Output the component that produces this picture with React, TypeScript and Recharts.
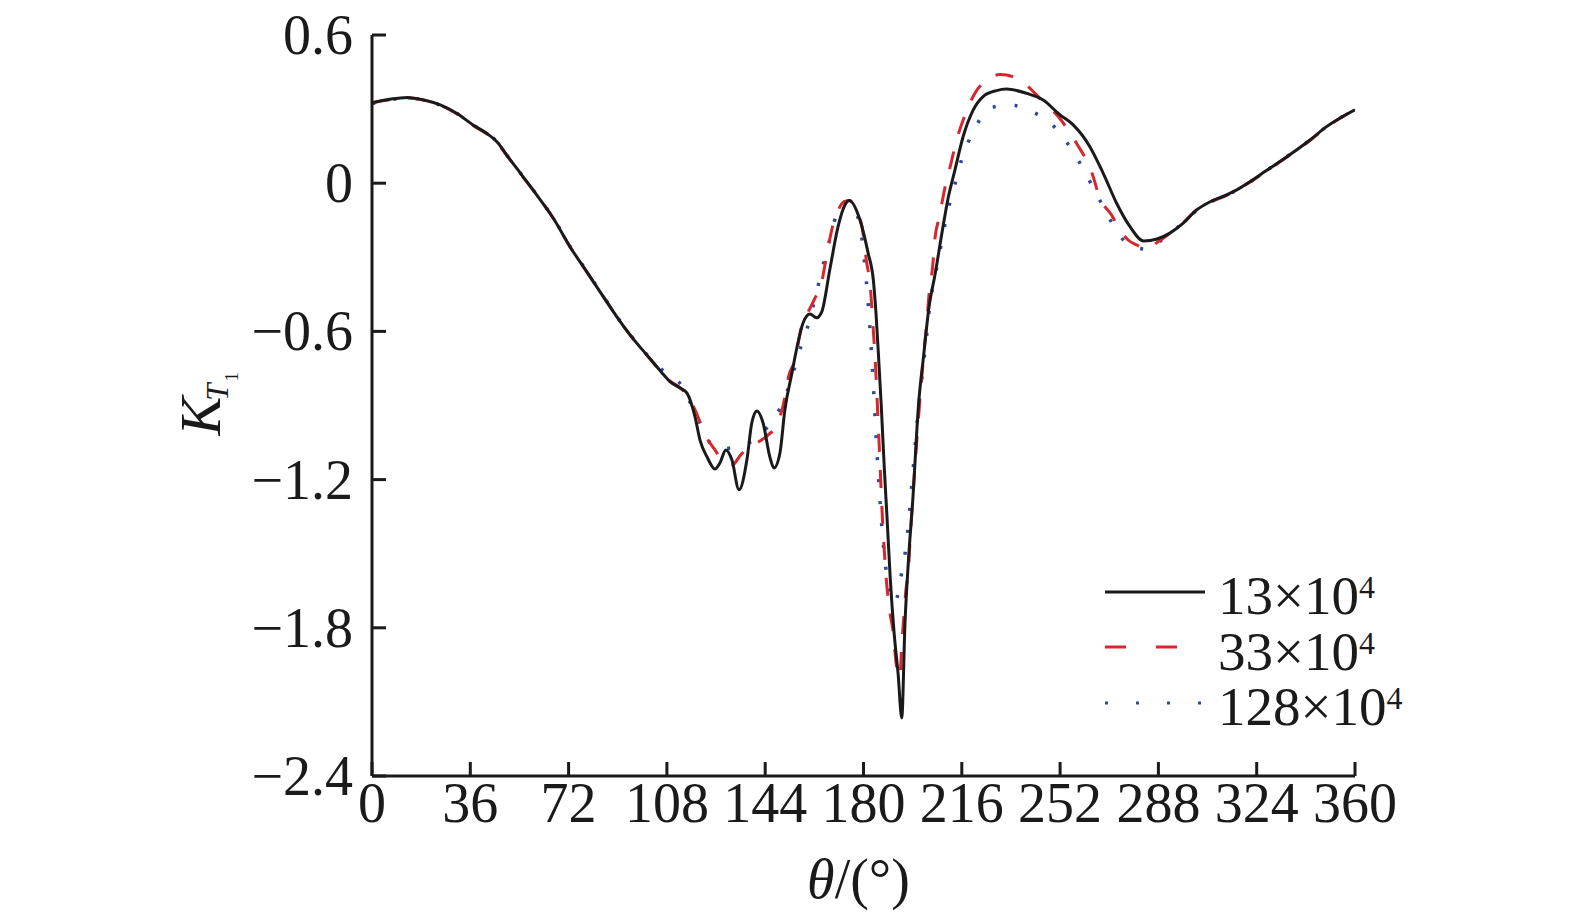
import React from 'react';
import { LineChart, Line, XAxis, YAxis, Legend, Label } from 'recharts';

const FONT = '"Liberation Serif", "Times New Roman", Times, serif';
const INK = '#1a1a1a';

const xTicks = [0, 36, 72, 108, 144, 180, 216, 252, 288, 324, 360];
const yTicks = [-2.4, -1.8, -1.2, -0.6, 0, 0.6];
const yTickLabels = ['−2.4', '−1.8', '−1.2', '−0.6', '0', '0.6'];

const seriesNames = ['13×10', '33×10', '128×10'];
const seriesExp = ['4', '4', '4'];
const seriesColors = ['#1a1a1a', '#d7262c', '#2e4a96'];

// Re = 13×10^4 (solid black)
const thetaA = [0, 6.6, 13, 19, 25, 31, 37, 42, 46, 49.3, 54.8, 60.3, 66.4, 72.5, 78.6, 84.7, 89.6, 94.5, 100.6, 106, 109.1, 112.8, 115.3, 118.3, 120.1, 122.7, 125.6, 127.4, 129.6, 131.8, 134.4, 137.3, 139.1, 141, 143.2, 145.7, 147.2, 149.4, 151.2, 153.8, 155.6, 157.9, 160.4, 162.8, 164.7, 167.7, 170.7, 173.2, 174.8, 178.7, 181.7, 183.6, 184.6, 185.5, 186.5, 187.6, 188.6, 189.8, 191.2, 192.7, 194, 195.2, 196.5, 198, 200.2, 202, 204, 206.2, 208.6, 211, 213.5, 216.5, 220.2, 223.8, 228.7, 232.4, 239.7, 245.8, 251.9, 256.8, 262.9, 267.8, 272.7, 277.6, 282.6, 287.5, 292.2, 297.1, 302, 306.8, 313, 317.8, 321.5, 327, 336.1, 343.5, 349.6, 354.4, 360];
const kA = [0.326, 0.34, 0.347, 0.337, 0.317, 0.283, 0.236, 0.202, 0.165, 0.115, 0.034, -0.047, -0.142, -0.257, -0.358, -0.459, -0.54, -0.614, -0.695, -0.765, -0.803, -0.829, -0.849, -0.946, -1.039, -1.108, -1.157, -1.133, -1.08, -1.12, -1.241, -1.12, -0.97, -0.922, -0.97, -1.108, -1.153, -1.092, -0.918, -0.768, -0.666, -0.565, -0.53, -0.545, -0.521, -0.347, -0.175, -0.088, -0.07, -0.149, -0.283, -0.392, -0.53, -0.7, -0.9, -1.15, -1.35, -1.6, -1.82, -1.99, -2.165, -1.78, -1.52, -1.29, -0.89, -0.7, -0.5, -0.37, -0.21, -0.06, 0.054, 0.189, 0.297, 0.351, 0.375, 0.381, 0.364, 0.337, 0.277, 0.236, 0.148, 0.04, -0.081, -0.176, -0.234, -0.226, -0.202, -0.162, -0.108, -0.076, -0.047, -0.02, 0.006, 0.047, 0.115, 0.175, 0.229, 0.263, 0.297];

// Re = 33×10^4 (red dashed)
const thetaB = [0, 6.6, 13, 19, 25, 31, 37, 42, 46, 49.3, 54.8, 60.3, 66.4, 72.5, 78.6, 84.7, 89.6, 94.5, 100.6, 106, 109.1, 113, 115.5, 118.8, 121.6, 125.6, 129, 132, 135, 137.2, 141.8, 145, 148.2, 150.6, 152.7, 154.9, 157.3, 159.8, 162, 164.7, 165.9, 168.8, 170.7, 173, 175, 177, 179.4, 181, 182.5, 183.5, 184.3, 185.5, 187, 188.4, 189.7, 190.9, 191.9, 192.6, 193.3, 194, 194.6, 195.5, 196.4, 197.3, 198.5, 200.5, 202.5, 203.3, 204, 205.3, 206.2, 207.7, 209.8, 211.6, 214.1, 216.5, 220.8, 225.1, 230, 232.4, 239.1, 245.8, 251.3, 255, 258, 263.5, 266.6, 270.8, 273.5, 276.9, 280, 284, 287.5, 292, 297, 302, 306.8, 313, 318, 321.5, 327, 336, 343.5, 349.6, 354.4, 360];
const kB = [0.326, 0.338, 0.345, 0.336, 0.316, 0.281, 0.234, 0.2, 0.163, 0.113, 0.032, -0.047, -0.142, -0.257, -0.358, -0.459, -0.54, -0.614, -0.695, -0.765, -0.8, -0.83, -0.86, -0.93, -1.01, -1.08, -1.13, -1.14, -1.1, -1.075, -1.046, -1.02, -0.979, -0.898, -0.777, -0.716, -0.58, -0.52, -0.47, -0.4, -0.33, -0.17, -0.11, -0.075, -0.07, -0.11, -0.173, -0.31, -0.42, -0.58, -0.72, -1.0, -1.37, -1.61, -1.74, -1.82, -1.94, -1.98, -2.0, -1.87, -1.78, -1.65, -1.57, -1.4, -1.2, -0.9, -0.64, -0.55, -0.45, -0.34, -0.22, -0.14, -0.02, 0.06, 0.175, 0.256, 0.364, 0.418, 0.44, 0.438, 0.402, 0.33, 0.27, 0.215, 0.162, 0.047, -0.061, -0.128, -0.18, -0.23, -0.25, -0.265, -0.24, -0.205, -0.16, -0.108, -0.078, -0.049, -0.02, 0.004, 0.045, 0.113, 0.173, 0.227, 0.262, 0.297];

// Re = 128×10^4 (blue dotted)
const thetaC = [0, 6.6, 13, 19, 25, 31, 37, 42, 46, 49.3, 54.8, 60.3, 66.4, 72.5, 78.6, 84.7, 89.6, 94.5, 100.6, 107.7, 113.8, 117, 120.7, 124.8, 128, 130.8, 136, 139, 142.4, 146, 149, 151, 153.1, 156.1, 159.8, 162.3, 165, 167.7, 170.7, 173.5, 176, 179.3, 180.5, 181.5, 182.3, 183, 184, 185, 186, 187, 188.2, 190, 191.5, 193.6, 195.8, 198, 200, 203.1, 204.2, 206.2, 208.3, 210.4, 213.1, 215.9, 220, 225.3, 229, 233.6, 240.9, 246.8, 252.9, 258.9, 260.6, 265.5, 270.7, 276.3, 280, 284.5, 288, 292, 297, 300, 306.8, 313, 318, 321.5, 327, 336, 343.5, 349.6, 354.4, 360];
const kC = [0.322, 0.338, 0.345, 0.336, 0.316, 0.283, 0.236, 0.202, 0.166, 0.115, 0.034, -0.047, -0.14, -0.255, -0.356, -0.457, -0.538, -0.612, -0.693, -0.77, -0.826, -0.9, -0.983, -1.064, -1.075, -1.073, -1.06, -1.045, -1.015, -0.97, -0.92, -0.87, -0.81, -0.695, -0.572, -0.464, -0.341, -0.226, -0.108, -0.075, -0.09, -0.213, -0.335, -0.456, -0.578, -0.702, -0.9, -1.1, -1.28, -1.43, -1.56, -1.67, -1.7, -1.6, -1.45, -1.18, -0.93, -0.62, -0.5, -0.378, -0.257, -0.135, -0.02, 0.094, 0.205, 0.294, 0.312, 0.317, 0.293, 0.259, 0.189, 0.088, 0.054, -0.047, -0.155, -0.243, -0.262, -0.267, -0.24, -0.205, -0.16, -0.128, -0.078, -0.049, -0.02, 0.004, 0.047, 0.115, 0.175, 0.229, 0.263, 0.297];

const toData = (t: number[], k: number[]) => t.map((theta, i) => ({ theta, k: k[i] }));
const dataA = toData(thetaA, kA);
const dataB = toData(thetaB, kB);
const dataC = toData(thetaC, kC);

const XTick = (props: any) => {
  const { x, y, payload } = props;
  return (
    <g>
      <line x1={x} y1={y} x2={x} y2={y - 14} stroke={INK} strokeWidth={3} />
      <text x={x} y={y + 46} textAnchor="middle" fontSize={56} fontFamily={FONT} fill={INK}>
        {payload.value}
      </text>
    </g>
  );
};

const YTick = (props: any) => {
  const { x, y, payload } = props;
  const idx = yTicks.indexOf(payload.value);
  const label = idx >= 0 ? yTickLabels[idx] : String(payload.value);
  return (
    <g>
      <line x1={x} y1={y} x2={x + 14} y2={y} stroke={INK} strokeWidth={3} />
      <text x={x - 19} y={y + 19} textAnchor="end" fontSize={56} fontFamily={FONT} fill={INK}>
        {label}
      </text>
    </g>
  );
};

const YTitle = (props: any) => {
  const vb = props.viewBox || { x: 172, y: 35, width: 200, height: 741 };
  const x = vb.x + 48;
  const y = vb.y + vb.height / 2 + 30;
  return (
    <text transform={`rotate(-90 ${x} ${y})`} x={x} y={y} fontFamily={FONT} fill={INK}>
      <tspan fontStyle="italic" fontSize={58}>K</tspan>
      <tspan fontStyle="italic" fontSize={31} dx={-4} dy={8}>T</tspan>
      <tspan fontSize={19} dx={2} dy={10}>1</tspan>
    </text>
  );
};

const XTitle = (props: any) => {
  const vb = props.viewBox || { x: 372, y: 776, width: 983, height: 60 };
  const x = vb.x + vb.width / 2 - 5;
  const y = vb.y + 122;
  return (
    <text x={x} y={y} textAnchor="middle" fontSize={56} fontFamily={FONT} fill={INK}>
      <tspan fontStyle="italic">θ</tspan>
      <tspan>/(°)</tspan>
    </text>
  );
};

const legendDash = ['', '21 30', '3 28'];

const LegendContent = () => (
  <div style={{ fontFamily: FONT, color: INK }}>
    {seriesNames.map((name, i) => (
      <div key={name} style={{ display: 'flex', alignItems: 'center', height: 55.5 }}>
        <svg width={100} height={10} style={{ display: 'block' }}>
          <line
            x1={0}
            y1={5}
            x2={100}
            y2={5}
            stroke={seriesColors[i]}
            strokeWidth={3}
            strokeDasharray={legendDash[i] || undefined}
          />
        </svg>
        <span style={{ marginLeft: 13, fontSize: 55, lineHeight: '55px', whiteSpace: 'nowrap' }}>
          {name}
          <span style={{ fontSize: 32, verticalAlign: 16 }}>{seriesExp[i]}</span>
        </span>
      </div>
    ))}
  </div>
);

export default function App() {
  return (
    <div style={{ width: 1575, height: 917, position: 'absolute', left: 0, top: 0 }}>
      <LineChart
        width={1575}
        height={917}
        margin={{ top: 35, right: 220, bottom: 81, left: 172 }}
      >
        <XAxis
          dataKey="theta"
          type="number"
          domain={[0, 360]}
          ticks={xTicks}
          interval={0}
          allowDataOverflow
          height={60}
          axisLine={{ stroke: INK, strokeWidth: 3 }}
          tickLine={false}
          tickSize={0}
          tickMargin={0}
          tick={<XTick />}
        >
          <Label content={<XTitle />} />
        </XAxis>
        <YAxis
          type="number"
          domain={[-2.4, 0.6]}
          ticks={yTicks}
          interval={0}
          allowDataOverflow
          width={200}
          axisLine={{ stroke: INK, strokeWidth: 3 }}
          tickLine={false}
          tickSize={0}
          tickMargin={0}
          tick={<YTick />}
        >
          <Label content={<YTitle />} />
        </YAxis>
        <Legend
          layout="vertical"
          align="center"
          verticalAlign="middle"
          content={<LegendContent />}
          wrapperStyle={{ position: 'absolute', left: 1105, top: 564, width: 'auto', height: 'auto' }}
        />
        <Line
          data={dataC}
          dataKey="k"
          type="monotone"
          stroke={seriesColors[2]}
          strokeWidth={3.5}
          strokeDasharray="3 19"
          dot={false}
          activeDot={false}
          isAnimationActive={false}
          name="128×10^4"
        />
        <Line
          data={dataB}
          dataKey="k"
          type="monotone"
          stroke={seriesColors[1]}
          strokeWidth={3}
          strokeDasharray="18 18"
          dot={false}
          activeDot={false}
          isAnimationActive={false}
          name="33×10^4"
        />
        <Line
          data={dataA}
          dataKey="k"
          type="monotone"
          stroke={seriesColors[0]}
          strokeWidth={3}
          dot={false}
          activeDot={false}
          isAnimationActive={false}
          name="13×10^4"
        />
      </LineChart>
    </div>
  );
}
